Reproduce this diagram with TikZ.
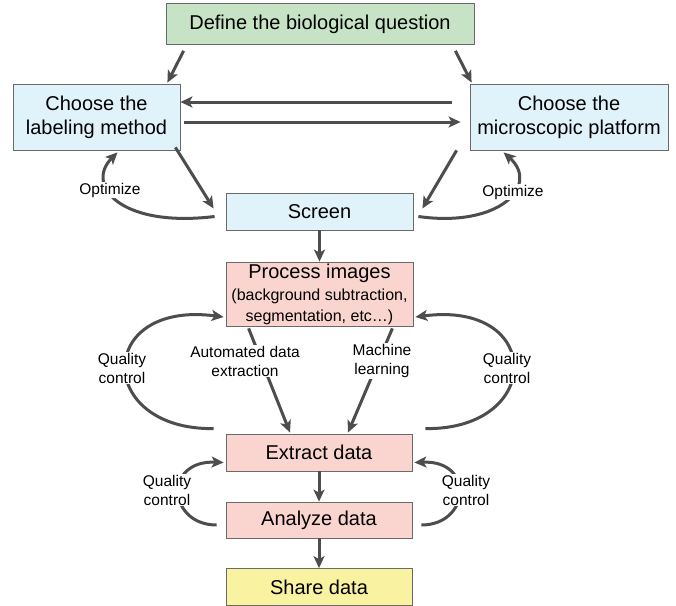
\documentclass[tikz,border=0pt]{standalone}
\usepackage{fontspec}
\setmainfont{Liberation Sans}
\usetikzlibrary{arrows.meta,calc}
\newcommand{\subfont}{\fontsize{16}{18}\selectfont}
\begin{document}
\begin{tikzpicture}[x=1pt,y=-1pt,
  box/.style={draw=boxline, line width=0.8pt, align=center, inner sep=0pt, font=\fontsize{20}{24}\selectfont},
  flow/.style={draw=arrowgray, line width=3pt, -{Stealth[length=12pt,width=11pt,inset=3pt]}},
  note/.style={fill=white, align=center, inner sep=1pt, font=\fontsize{15.5}{19}\selectfont}]
\definecolor{stepgreen}{HTML}{C6E3C6}
\definecolor{stepblue}{HTML}{E1F3FA}
\definecolor{steppink}{HTML}{FAD5CF}
\definecolor{stepyellow}{HTML}{F9F2A0}
\definecolor{boxline}{HTML}{6A6A6A}
\definecolor{arrowgray}{HTML}{4D4D4D}
\fill[white] (0,0) rectangle (676,605);
\useasboundingbox (0,0) rectangle (676,605);
\node[box, fill=stepgreen, minimum width=308pt, minimum height=41pt] (define) at (320,24) {Define the biological question};
\node[box, fill=stepblue, minimum width=167pt, minimum height=66pt] (labeling) at (96.5,117) {Choose the\\labeling method};
\node[box, fill=stepblue, minimum width=198pt, minimum height=66pt] (platform) at (569,117) {Choose the\\microscopic platform};
\node[box, fill=stepblue, minimum width=187pt, minimum height=37pt] (screen) at (319.5,211.5) {Screen};
\node[box, fill=steppink, minimum width=187pt, minimum height=64pt] (process) at (319.5,294) {Process images\\[-2pt]\subfont(background subtraction,\\[-3pt]\subfont segmentation, etc…)};
\node[box, fill=steppink, minimum width=186pt, minimum height=37pt] (extract) at (319,452.5) {Extract data};
\node[box, fill=steppink, minimum width=186pt, minimum height=36pt] (analyze) at (319,520) {Analyze data};
\node[box, fill=stepyellow, minimum width=186pt, minimum height=37pt] (share) at (319,587) {Share data};
% choosing
\draw[flow] ($(define.south west)+(18,6)$) -- ($(labeling.north east)+(-13,-1)$);
\draw[flow] ($(define.south east)+(-19,6)$) -- ($(platform.north west)+(2,-1)$);
\draw[flow] ($(platform.west)+(-18,-15)$) -- ($(labeling.east)+(0,-15)$);
\draw[flow] ($(labeling.east)+(4,5)$) -- ($(platform.west)+(-9,5)$);
\draw[flow] ($(labeling.south east)+(-5,-3)$) -- ($(screen.west)+(-12,-3)$);
\draw[flow] ($(platform.south west)+(-13,0)$) -- ($(screen.east)+(9,-3)$);
\draw[flow] ($(screen.west)+(-11,5)$) .. controls (120,228) and (85,185) .. ($(labeling.south)+(21,2)$);
\draw[flow] ($(screen.east)+(5,5)$) .. controls (500,228) and (540,185) .. ($(platform.south west)+(34,2)$);
\draw[flow] (screen.south) -- (process.north);
% processing
\draw[flow] ($(process.south west)+(23,2)$) -- ($(extract.north)+(-29,-1)$);
\draw[flow] ($(process.south east)+(-21,2)$) -- ($(extract.north)+(29,-1)$);
\draw[flow] ($(extract.north west)+(-12,-5)$) .. controls (95,430) and (95,300) .. ($(process.west)+(-2,23)$);
\draw[flow] ($(extract.north east)+(13,-5)$) .. controls (544,430) and (544,300) .. ($(process.east)+(2,23)$);
\draw[flow] (extract.south) -- (analyze.north);
\draw[flow] ($(analyze.west)+(-9,5)$) .. controls (168,525) and (163,460) .. ($(extract.west)+(-2,10)$);
\draw[flow] ($(analyze.east)+(9,5)$) .. controls (470,525) and (475,460) .. ($(extract.east)+(2,10)$);
\draw[flow] (analyze.south) -- (share.north);
% labels
\node[note] (optleft) at (110,190) {Optimize};
\node[note] (optright) at (513,192) {Optimize};
\node[note] (autolabel) at (245,361) {Automated data\\extraction};
\node[note] (mllabel) at (382,361) {Machine\\learning};
\node[note] (qcleft) at (122,368) {Quality\\control};
\node[note] (qcright) at (507,368) {Quality\\control};
\node[note] (qcsmallleft) at (167,490) {Quality\\control};
\node[note] (qcsmallright) at (466,490) {Quality\\control};
\end{tikzpicture}
\end{document}
